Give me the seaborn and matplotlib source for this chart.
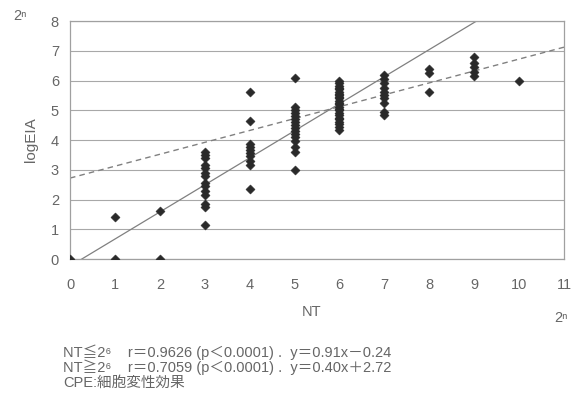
import numpy as np
import pandas as pd
import matplotlib
matplotlib.use("Agg")
import matplotlib.pyplot as plt
import seaborn as sns

# ---- data ----
nt_x0 = [0]
eia_x0 = [0.0]
nt_x1 = [1, 1]
eia_x1 = [0.0, 1.4]
nt_x2 = [2, 2]
eia_x2 = [0.0, 1.6]
eia_x3 = [1.15, 1.75, 1.85, 2.15, 2.3, 2.45, 2.55, 2.8, 2.9, 3.05, 3.15, 3.4, 3.5, 3.6]
eia_x4 = [2.35, 3.15, 3.3, 3.45, 3.55, 3.65, 3.75, 3.85, 4.65, 5.6]
eia_x5 = [3.0, 3.6, 3.75, 3.95, 4.1, 4.2, 4.3, 4.4, 4.5, 4.6, 4.7, 4.8, 4.9, 5.0, 5.1, 6.1]
eia_x6 = [4.35, 4.45, 4.55, 4.6, 4.7, 4.75, 4.85, 4.9, 5.0, 5.05, 5.1, 5.2, 5.25,
          5.3, 5.4, 5.45, 5.5, 5.55, 5.6, 5.7, 5.75, 5.8, 5.9, 6.0]
eia_x7 = [4.85, 4.95, 5.25, 5.4, 5.5, 5.6, 5.75, 5.9, 6.05, 6.2]
eia_x8 = [5.6, 6.25, 6.4]
eia_x9 = [6.15, 6.3, 6.45, 6.6, 6.8]
eia_x10 = [6.0]

fit_low = (0.91, -0.24)   # NT <= 2^6
fit_high = (0.40, 2.72)   # NT >= 2^6

x_ticks = list(range(0, 12))
y_ticks = list(range(0, 9))
footnotes = [
    "NT\u22662\u2076    r\uff1d0.9626 (p\uff1c0.0001) .  y\uff1d0.91x\uff0d0.24",
    "NT\u22672\u2076    r\uff1d0.7059 (p\uff1c0.0001) .  y\uff1d0.40x\uff0b2.72",
    "CPE:\u7d30\u80de\u5909\u6027\u52b9\u679c",
]

cols = {3: eia_x3, 4: eia_x4, 5: eia_x5, 6: eia_x6, 7: eia_x7, 8: eia_x8, 9: eia_x9, 10: eia_x10}
xs = nt_x0 + nt_x1 + nt_x2
ys = eia_x0 + eia_x1 + eia_x2
for k, v in cols.items():
    xs += [k] * len(v)
    ys += v
df = pd.DataFrame({"NT": xs, "logEIA": ys})

sns.set_theme(style="white")
plt.rcParams['font.family'] = ['Liberation Sans', 'Noto Sans CJK JP', 'DejaVu Sans']

grey = "#666666"
fig = plt.figure(figsize=(5.71, 3.97), dpi=100)
ax = fig.add_axes([0.1226, 0.3476, 0.8651, 0.5995])

for yv in y_ticks:
    ax.axhline(yv, color="#a8a8a8", lw=0.8, zorder=0)

line_x = np.array([0, 11], dtype=float)
ldf1 = pd.DataFrame({"x": line_x, "y": fit_low[0] * line_x + fit_low[1]})
ldf2 = pd.DataFrame({"x": line_x, "y": fit_high[0] * line_x + fit_high[1]})
sns.lineplot(data=ldf1, x="x", y="y", ax=ax, color="#808080", lw=0.9, zorder=2)
sns.lineplot(data=ldf2, x="x", y="y", ax=ax, color="#808080", lw=1.0,
             linestyle=(0, (4, 3)), zorder=2)

sns.scatterplot(data=df, x="NT", y="logEIA", ax=ax, marker="D", s=22,
                color="#2a2a2a", edgecolor="#2a2a2a", linewidth=0.3, zorder=3)

ax.set_xlim(0, 11)
ax.set_ylim(0, 8)
ax.set_xticks(x_ticks)
ax.set_yticks(y_ticks)
ax.set_xticklabels([str(t) for t in x_ticks])
ax.set_yticklabels([str(t) for t in y_ticks])
ax.tick_params(axis="x", direction="in", length=4, color="#999999", width=0.8,
               labelsize=10.5, labelcolor=grey, pad=14)
ax.tick_params(axis="y", length=0, labelsize=10.5, labelcolor=grey, pad=8)
for s in ax.spines.values():
    s.set_color("#a0a0a0")
    s.set_linewidth(0.9)
ax.set_xlabel("")
ax.set_ylabel("")

fig.text(31 / 571, 1 - 140 / 397, "logEIA", rotation=90, ha="center", va="center",
         fontsize=11, color=grey)
fig.text(312 / 571, 1 - 312 / 397, "NT", ha="center", va="center", fontsize=10.5, color=grey)
fig.text(20 / 571, 1 - 16 / 397, "2\u207f", ha="center", va="center", fontsize=10.5, color=grey)
fig.text(561 / 571, 1 - 318 / 397, "2\u207f", ha="center", va="center", fontsize=10.5, color=grey)

for i, t in enumerate(footnotes):
    fig.text(63 / 571, 1 - (352 + 15.5 * i) / 397, t, ha="left", va="center",
             fontsize=10.5, color=grey)

fig.savefig("out.png", dpi=100, facecolor="white")
